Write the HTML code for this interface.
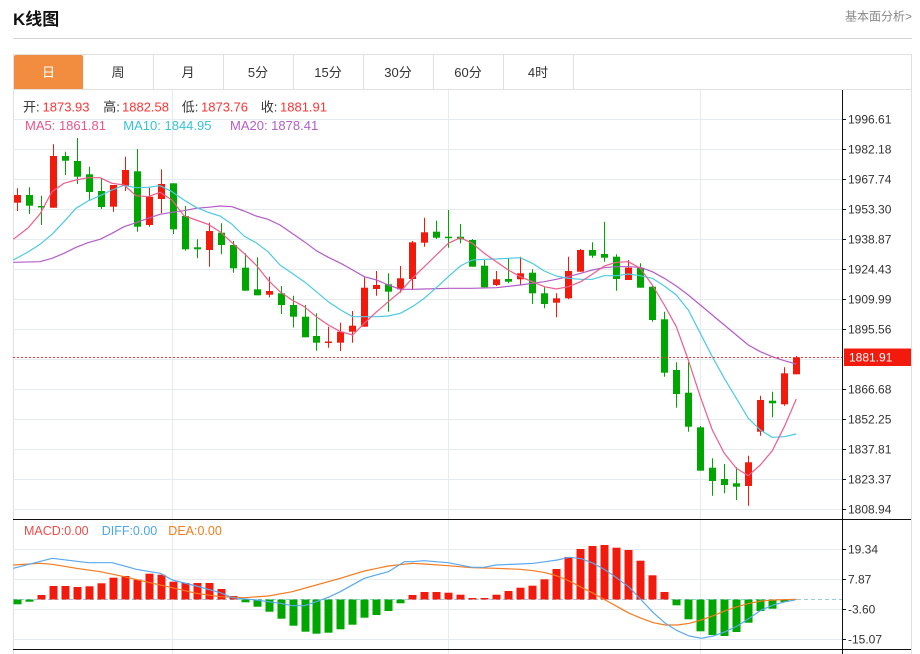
<!DOCTYPE html>
<html><head><meta charset="utf-8"><style>
html,body{margin:0;padding:0;background:#fff;width:920px;height:654px;overflow:hidden}
svg{display:block}
text{font-family:"Liberation Sans","Noto Sans CJK SC",sans-serif}
</style></head><body>
<svg width="920" height="654" viewBox="0 0 920 654" xmlns="http://www.w3.org/2000/svg">
<rect width="920" height="654" fill="#fff"/>
<text x="13" y="25" font-size="17" font-weight="bold" fill="#111">K线图</text>
<text x="912" y="20.5" font-size="12" fill="#888" text-anchor="end">基本面分析&gt;</text>
<line x1="13" y1="38.5" x2="912" y2="38.5" stroke="#d3d3d3" stroke-width="1"/>
<rect x="13.5" y="54.5" width="898" height="612" fill="none" stroke="#e0e0e0"/>
<rect x="14" y="55" width="69" height="35" rx="2" fill="#f28c3e"/>
<g stroke="#e0e0e0" stroke-width="1">
<line x1="153.5" y1="55" x2="153.5" y2="89"/><line x1="223.5" y1="55" x2="223.5" y2="89"/>
<line x1="293.5" y1="55" x2="293.5" y2="89"/><line x1="363.5" y1="55" x2="363.5" y2="89"/>
<line x1="433.5" y1="55" x2="433.5" y2="89"/><line x1="503.5" y1="55" x2="503.5" y2="89"/>
<line x1="573.5" y1="55" x2="573.5" y2="89"/>
<line x1="13" y1="89.5" x2="912" y2="89.5"/>
</g>
<g font-size="13" fill="#333" text-anchor="middle">
<text x="48.5" y="77" fill="#fff">日</text><text x="118" y="77">周</text><text x="188" y="77">月</text>
<text x="258" y="77">5分</text><text x="328" y="77">15分</text><text x="398" y="77">30分</text>
<text x="468" y="77">60分</text><text x="538" y="77">4时</text>
</g>
<g stroke="#e4ebf1" stroke-width="1">
<line x1="13" y1="119.5" x2="842" y2="119.5"/><line x1="13" y1="149.5" x2="842" y2="149.5"/>
<line x1="13" y1="179.5" x2="842" y2="179.5"/><line x1="13" y1="209.5" x2="842" y2="209.5"/>
<line x1="13" y1="239.5" x2="842" y2="239.5"/><line x1="13" y1="269.5" x2="842" y2="269.5"/>
<line x1="13" y1="299.5" x2="842" y2="299.5"/><line x1="13" y1="329.5" x2="842" y2="329.5"/>
<line x1="13" y1="359.5" x2="842" y2="359.5"/><line x1="13" y1="389.5" x2="842" y2="389.5"/>
<line x1="13" y1="419.5" x2="842" y2="419.5"/><line x1="13" y1="449.5" x2="842" y2="449.5"/>
<line x1="13" y1="479.5" x2="842" y2="479.5"/><line x1="13" y1="509.5" x2="842" y2="509.5"/>
<line x1="13" y1="549.5" x2="842" y2="549.5"/><line x1="13" y1="579.5" x2="842" y2="579.5"/>
<line x1="13" y1="609.5" x2="842" y2="609.5"/><line x1="13" y1="639.5" x2="842" y2="639.5"/>
<line x1="172.5" y1="90" x2="172.5" y2="654"/><line x1="448.5" y1="90" x2="448.5" y2="654"/>
<line x1="700.5" y1="90" x2="700.5" y2="654"/>
</g>
<line x1="13" y1="599.5" x2="842" y2="599.5" stroke="#96cde6" stroke-width="1" stroke-dasharray="4,3"/>
<g fill="#f2190d" stroke="#f2190d" stroke-width="1">
<line x1="17.5" y1="188.3" x2="17.5" y2="211"/><rect x="14" y="195" width="7" height="7.7" stroke="none"/>
<line x1="53.5" y1="144.3" x2="53.5" y2="207.7"/><rect x="50" y="156" width="7" height="51.7" stroke="none"/>
<line x1="113.5" y1="185" x2="113.5" y2="211.7"/><rect x="110" y="185" width="7" height="21.7" stroke="none"/>
<line x1="125.5" y1="156.7" x2="125.5" y2="191"/><rect x="122" y="170" width="7" height="16" stroke="none"/>
<line x1="149.5" y1="187.7" x2="149.5" y2="226.7"/><rect x="146" y="196.7" width="7" height="28.3" stroke="none"/>
<line x1="161.5" y1="169.3" x2="161.5" y2="213.3"/><rect x="158" y="184" width="7" height="15" stroke="none"/>
<line x1="209.5" y1="222.7" x2="209.5" y2="266.7"/><rect x="206" y="231" width="7" height="19" stroke="none"/>
<line x1="269.5" y1="276.7" x2="269.5" y2="297.3"/><rect x="266" y="291" width="7" height="3.7" stroke="none"/>
<line x1="328.5" y1="326.7" x2="328.5" y2="347.7"/><rect x="325" y="341.5" width="7" height="1.5" stroke="none"/>
<line x1="340.5" y1="322.7" x2="340.5" y2="351"/><rect x="337" y="331.7" width="7" height="11" stroke="none"/>
<line x1="352.5" y1="311" x2="352.5" y2="342.7"/><rect x="349" y="325.7" width="7" height="6" stroke="none"/>
<line x1="364.5" y1="277.3" x2="364.5" y2="326.7"/><rect x="361" y="287.7" width="7" height="39" stroke="none"/>
<line x1="376.5" y1="271" x2="376.5" y2="295.7"/><rect x="373" y="285" width="7" height="4" stroke="none"/>
<line x1="400.5" y1="266" x2="400.5" y2="292.7"/><rect x="397" y="278.3" width="7" height="11" stroke="none"/>
<line x1="412.5" y1="241" x2="412.5" y2="290"/><rect x="409" y="242.3" width="7" height="36.7" stroke="none"/>
<line x1="424.5" y1="217.7" x2="424.5" y2="246.7"/><rect x="421" y="232.3" width="7" height="10.4" stroke="none"/>
<line x1="496.5" y1="271" x2="496.5" y2="286"/><rect x="493" y="279.3" width="7" height="5.7" stroke="none"/>
<line x1="520.5" y1="256.7" x2="520.5" y2="285"/><rect x="517" y="273.3" width="7" height="6" stroke="none"/>
<line x1="556.5" y1="293.3" x2="556.5" y2="317.3"/><rect x="553" y="298.3" width="7" height="4.4" stroke="none"/>
<line x1="568.5" y1="256.7" x2="568.5" y2="299.3"/><rect x="565" y="271" width="7" height="27.3" stroke="none"/>
<line x1="580.5" y1="249" x2="580.5" y2="271.7"/><rect x="577" y="250" width="7" height="21.7" stroke="none"/>
<line x1="628.5" y1="260" x2="628.5" y2="280"/><rect x="625" y="267.7" width="7" height="12.3" stroke="none"/>
<line x1="748.5" y1="455.7" x2="748.5" y2="505.7"/><rect x="745" y="462.3" width="7" height="23.7" stroke="none"/>
<line x1="760.5" y1="395.7" x2="760.5" y2="435.7"/><rect x="757" y="400" width="7" height="31.7" stroke="none"/>
<line x1="784.5" y1="367.3" x2="784.5" y2="405.7"/><rect x="781" y="373.3" width="7" height="31" stroke="none"/>
<line x1="796.5" y1="356" x2="796.5" y2="374.3"/><rect x="793" y="357.3" width="7" height="17" stroke="none"/>
</g>
<g fill="#00a600" stroke="#00a600" stroke-width="1">
<line x1="29.5" y1="187.3" x2="29.5" y2="214"/><rect x="26" y="195" width="7" height="10.7" stroke="none"/>
<line x1="41.5" y1="195.7" x2="41.5" y2="225"/><rect x="38" y="206" width="7" height="1.5" stroke="none"/>
<line x1="65.5" y1="151.7" x2="65.5" y2="175"/><rect x="62" y="156" width="7" height="4.7" stroke="none"/>
<line x1="77.5" y1="138" x2="77.5" y2="184"/><rect x="74" y="161" width="7" height="15.7" stroke="none"/>
<line x1="89.5" y1="166.7" x2="89.5" y2="201"/><rect x="86" y="174.3" width="7" height="17.7" stroke="none"/>
<line x1="101.5" y1="178.3" x2="101.5" y2="209"/><rect x="98" y="191" width="7" height="16" stroke="none"/>
<line x1="137.5" y1="149" x2="137.5" y2="231.7"/><rect x="134" y="171.3" width="7" height="55.4" stroke="none"/>
<line x1="173.5" y1="183.3" x2="173.5" y2="234"/><rect x="170" y="183.3" width="7" height="46" stroke="none"/>
<line x1="185.5" y1="206" x2="185.5" y2="250.7"/><rect x="182" y="216" width="7" height="33.3" stroke="none"/>
<line x1="197.5" y1="239.3" x2="197.5" y2="258.3"/><rect x="194" y="247.3" width="7" height="2" stroke="none"/>
<line x1="221.5" y1="223.3" x2="221.5" y2="254.3"/><rect x="218" y="232.7" width="7" height="12.3" stroke="none"/>
<line x1="233.5" y1="241" x2="233.5" y2="272.7"/><rect x="230" y="245" width="7" height="23.3" stroke="none"/>
<line x1="245.5" y1="253.3" x2="245.5" y2="290.7"/><rect x="242" y="267.7" width="7" height="23" stroke="none"/>
<line x1="257.5" y1="257.3" x2="257.5" y2="295.3"/><rect x="254" y="289.3" width="7" height="6" stroke="none"/>
<line x1="281.5" y1="286" x2="281.5" y2="314"/><rect x="278" y="293.3" width="7" height="11.7" stroke="none"/>
<line x1="293.5" y1="295.7" x2="293.5" y2="327.5"/><rect x="290" y="305" width="7" height="11.7" stroke="none"/>
<line x1="305.5" y1="305" x2="305.5" y2="337.3"/><rect x="302" y="316.7" width="7" height="20.6" stroke="none"/>
<line x1="316.5" y1="313.3" x2="316.5" y2="350.7"/><rect x="313" y="336" width="7" height="6.7" stroke="none"/>
<line x1="388.5" y1="273.3" x2="388.5" y2="311.7"/><rect x="385" y="284.3" width="7" height="7.4" stroke="none"/>
<line x1="436.5" y1="220.7" x2="436.5" y2="239"/><rect x="433" y="231.7" width="7" height="6" stroke="none"/>
<line x1="448.5" y1="210" x2="448.5" y2="247.7"/><rect x="445" y="236.7" width="7" height="1.5" stroke="none"/>
<line x1="460.5" y1="224" x2="460.5" y2="243.3"/><rect x="457" y="236.7" width="7" height="2.6" stroke="none"/>
<line x1="472.5" y1="239" x2="472.5" y2="266.7"/><rect x="469" y="240" width="7" height="26.7" stroke="none"/>
<line x1="484.5" y1="260" x2="484.5" y2="287.3"/><rect x="481" y="265.7" width="7" height="21.6" stroke="none"/>
<line x1="508.5" y1="258.3" x2="508.5" y2="283.3"/><rect x="505" y="279" width="7" height="2.7" stroke="none"/>
<line x1="532.5" y1="269.3" x2="532.5" y2="304"/><rect x="529" y="272.7" width="7" height="20.6" stroke="none"/>
<line x1="544.5" y1="287.3" x2="544.5" y2="308.3"/><rect x="541" y="293.3" width="7" height="10.7" stroke="none"/>
<line x1="592.5" y1="242.3" x2="592.5" y2="257.7"/><rect x="589" y="250" width="7" height="5.7" stroke="none"/>
<line x1="604.5" y1="221.7" x2="604.5" y2="261.7"/><rect x="601" y="254" width="7" height="3.7" stroke="none"/>
<line x1="616.5" y1="254.3" x2="616.5" y2="290.7"/><rect x="613" y="256.7" width="7" height="22.3" stroke="none"/>
<line x1="640.5" y1="263.3" x2="640.5" y2="287.7"/><rect x="637" y="267.7" width="7" height="20" stroke="none"/>
<line x1="652.5" y1="285" x2="652.5" y2="321.7"/><rect x="649" y="286.7" width="7" height="33.3" stroke="none"/>
<line x1="664.5" y1="311.7" x2="664.5" y2="376.7"/><rect x="661" y="319.3" width="7" height="53.4" stroke="none"/>
<line x1="676.5" y1="362.3" x2="676.5" y2="407.7"/><rect x="673" y="370" width="7" height="24" stroke="none"/>
<line x1="688.5" y1="362.3" x2="688.5" y2="431.7"/><rect x="685" y="392.7" width="7" height="34" stroke="none"/>
<line x1="700.5" y1="426" x2="700.5" y2="470.7"/><rect x="697" y="427.3" width="7" height="43.4" stroke="none"/>
<line x1="712.5" y1="458.3" x2="712.5" y2="495.7"/><rect x="709" y="467.7" width="7" height="13.3" stroke="none"/>
<line x1="724.5" y1="464" x2="724.5" y2="493.3"/><rect x="721" y="479" width="7" height="6" stroke="none"/>
<line x1="736.5" y1="467.3" x2="736.5" y2="500"/><rect x="733" y="483.3" width="7" height="3.4" stroke="none"/>
<line x1="772.5" y1="391.7" x2="772.5" y2="417.3"/><rect x="769" y="400.7" width="7" height="2.6" stroke="none"/>
</g>
<g fill="none" stroke-width="1.2" stroke-linejoin="round">
<polyline stroke="#b45cc8" points="13.3,262.3 40,261.7 52,258.3 64,253.3 76,247.3 88,242.7 100,239.3 112,233.3 124,226.7 136,222.7 148,218.3 160,214.3 172,212.3 184,210.7 196,208.3 208,207.3 220,206 232,206.7 244,211 256,216 268,219.3 280,225 292,233.3 304.3,241.7 316.3,250.7 328.3,257.3 340.7,263.3 352.7,270 364.3,276.7 376.7,280 388.3,285 400.3,289.3 412.3,289.3 424.3,289 448.3,288.3 472.3,288.3 496.3,287.7 520.3,285 532.3,283.3 544.3,281.7 556.3,279.3 568.3,276.7 580.7,273.3 592.3,270 604.3,267.7 616.3,266.7 628.3,266.7 640.3,267.3 652.3,271.7 664.3,278.3 676.3,286 688.3,295 700.3,305 712.3,315 724.3,325 736.3,335 748.3,345 760.3,351.7 772.3,356.7 784.3,360.7 796.3,364"/>
<polyline stroke="#4ccae0" points="13.3,260 28,252 40,244.3 52,234.3 64,221.7 76,208.3 88,201 100,195.7 112,190 124,185.3 136,187.7 148,187.3 160,185.7 172,191.7 184,200 196,207.3 208,212.3 220,216 232,224.3 244,236 256,242.7 268,251.7 280,265 292,273.3 304.3,281.7 316.3,291.7 328.3,301.7 340.7,310 352.7,316.7 364.3,316.7 376.7,316.7 388.3,316 400.3,313.3 412.3,306.7 424.3,298.3 436.3,287.7 448.3,276.7 460.3,266 472.3,260 484.3,259.3 496.3,259 508.3,258.3 520.3,257.7 532.3,263.3 544.3,271 556.3,276 568.3,278.3 580.7,279.3 592.3,279.3 604.3,275.7 616.3,275.7 628.3,274 640.3,275.7 652.3,278.3 664.3,286 676.3,295 688.3,310 700.3,333.3 712.3,356.7 724.3,378.3 736.3,398.3 748.3,418.3 760.3,430 772.3,437.3 784.3,436.7 796.3,434"/>
<polyline stroke="#ee5c8c" points="13.3,239.3 28,228 40,214 52,191.7 64,183.3 76,180 88,177.7 100,177.7 112,183.3 124,185 136,195.7 148,196.7 160,192.3 172,200 184,215.7 196,220 208,224.3 220,231.7 232,242.7 244,253.3 256,265 268,280 280,291.7 292,300 304.3,306.7 316.3,316.7 328.3,325 340.7,331.7 352.7,335 364.3,323.3 376.7,311.7 388.3,301.7 400.3,291.7 412.3,278.3 424.3,266.7 436.3,255 448.3,243.3 460.3,237.7 472.3,243.3 484.3,253.3 496.3,261.7 508.3,270 520.3,276.7 532.3,281.7 544.3,286.7 556.3,289 568.3,286.7 580.7,281.7 592.3,274.3 604.3,266 616.3,262.3 628.3,261.7 640.3,268.3 652.3,285 664.3,305 676.3,326.7 688.3,360 700.3,396.7 712.3,430 724.3,453.3 736.3,468.3 748.3,475.7 760.3,465 772.3,450.7 784.3,426.7 796.3,399"/>
</g>
<line x1="13" y1="357.5" x2="842" y2="357.5" stroke="#f33" stroke-width="1" stroke-dasharray="2,2"/>
<g fill="#f2190d">
<rect x="37.5" y="595" width="8" height="4.5"/><rect x="49.5" y="586" width="8" height="13.5"/>
<rect x="61.5" y="586" width="8" height="13.5"/><rect x="73.5" y="587" width="8" height="12.5"/>
<rect x="85.5" y="586.3" width="8" height="13.2"/><rect x="97.5" y="583.3" width="8" height="16.2"/>
<rect x="109.5" y="577.7" width="8" height="21.8"/><rect x="121.5" y="576" width="8" height="23.5"/>
<rect x="133.5" y="579.7" width="8" height="19.8"/><rect x="145.5" y="573.7" width="8" height="25.8"/>
<rect x="157.5" y="574.7" width="8" height="24.8"/><rect x="169.5" y="581.7" width="8" height="17.8"/>
<rect x="181.5" y="583" width="8" height="16.5"/><rect x="193.5" y="583" width="8" height="16.5"/>
<rect x="205.5" y="583" width="8" height="16.5"/><rect x="217.5" y="589" width="8" height="10.5"/>
<rect x="229.5" y="596" width="8" height="3.5"/>
<rect x="408.5" y="595" width="8" height="4.5"/><rect x="420.5" y="592" width="8" height="7.5"/>
<rect x="432.5" y="592" width="8" height="7.5"/><rect x="444.5" y="592.7" width="8" height="6.8"/>
<rect x="456.5" y="594.7" width="8" height="4.8"/><rect x="468.5" y="598" width="8" height="1.5"/>
<rect x="480.5" y="598" width="8" height="1.5"/><rect x="492.5" y="594.7" width="8" height="4.8"/>
<rect x="504.5" y="591" width="8" height="8.5"/><rect x="516.5" y="587.7" width="8" height="11.8"/>
<rect x="528.5" y="585.7" width="8" height="13.8"/><rect x="540.5" y="579.3" width="8" height="20.2"/>
<rect x="552.5" y="569" width="8" height="30.5"/><rect x="564.5" y="557" width="8" height="42.5"/>
<rect x="576.5" y="549" width="8" height="50.5"/><rect x="588.5" y="546" width="8" height="53.5"/>
<rect x="600.5" y="545" width="8" height="54.5"/><rect x="612.5" y="547.7" width="8" height="51.8"/>
<rect x="624.5" y="550" width="8" height="49.5"/><rect x="636.5" y="560.7" width="8" height="38.8"/>
<rect x="648.5" y="575.3" width="8" height="24.2"/><rect x="660.5" y="592" width="8" height="7.5"/>
</g>
<g fill="#00a600">
<rect x="13.5" y="599.5" width="8" height="4.8"/><rect x="25.5" y="599.5" width="8" height="2.2"/>
<rect x="241.5" y="599.5" width="8" height="2.8"/><rect x="253.5" y="599.5" width="8" height="7.2"/>
<rect x="265.5" y="599.5" width="8" height="12.2"/><rect x="277.5" y="599.5" width="8" height="19.2"/>
<rect x="289.5" y="599.5" width="8" height="26.2"/><rect x="301.5" y="599.5" width="8" height="32.2"/>
<rect x="312.5" y="599.5" width="8" height="34.2"/><rect x="324.5" y="599.5" width="8" height="33.2"/>
<rect x="336.5" y="599.5" width="8" height="29.8"/><rect x="348.5" y="599.5" width="8" height="25.2"/>
<rect x="360.5" y="599.5" width="8" height="18.2"/><rect x="372.5" y="599.5" width="8" height="15.5"/>
<rect x="384.5" y="599.5" width="8" height="11.5"/><rect x="396.5" y="599.5" width="8" height="3.8"/>
<rect x="672.5" y="599.5" width="8" height="5.8"/><rect x="684.5" y="599.5" width="8" height="19.8"/>
<rect x="696.5" y="599.5" width="8" height="31.8"/><rect x="708.5" y="599.5" width="8" height="35.5"/>
<rect x="720.5" y="599.5" width="8" height="36.5"/><rect x="732.5" y="599.5" width="8" height="32.5"/>
<rect x="744.5" y="599.5" width="8" height="23.2"/><rect x="756.5" y="599.5" width="8" height="11.5"/>
<rect x="768.5" y="599.5" width="8" height="9.2"/><rect x="780.5" y="599.5" width="8" height="2.5"/>
</g>
<g fill="none" stroke-width="1.2" stroke-linejoin="round">
<polyline stroke="#f47b20" points="13.3,565 40.3,563.3 52.3,564.3 76.3,568.3 100.3,571.7 124.3,576.7 148.3,582.3 172.3,587.7 196.3,593.3 220.3,596.7 244.3,597.7 268.3,596 292.3,591.7 316.3,585 340.3,578.3 364.3,571 388.3,566 412.3,563.3 424,564 448,565.7 472,567.7 496,568.3 520,569.3 533.3,570.7 545.3,572.7 557.3,576 569.3,581 581.3,587.3 593.3,593.3 605.3,600 617.3,606.7 629.3,613.3 641.3,618.3 653.3,622.7 665.3,625 677.3,625 689.3,623.3 701.3,620 713.3,615.7 725.3,610.7 737.3,606.7 749.3,603.3 761.3,601 773.3,600 796.7,599.3"/>
<polyline stroke="#5aa9ee" points="13.3,568.3 52.3,558.3 88.3,562.7 112.3,562.7 136.3,569.3 160.3,573.3 172.3,580 196.3,586 220.3,592.7 232.3,597.7 256.3,600 280.3,603.3 292.3,605.7 304.3,605.7 316.3,601.7 328.3,597.3 340.3,591.7 364.3,578.3 388.3,571.7 404.3,561.7 412,561.7 424,560.7 448,562.7 472,567.3 484,567.3 496,565 520,564 533.3,563.3 545.3,561.7 557.3,560 569.3,557.3 581.3,558.7 593.3,563.3 605.3,570 617.3,578.3 629.3,587.3 641.3,600 653.3,612.7 665.3,623.3 677.3,630.7 689.3,636 701.3,638.3 713.3,636 725.3,631.7 737.3,626 749.3,618.3 761.3,610 773.3,605 785.3,601.7 795,600"/>
</g>
<g stroke="#111" stroke-width="1">
<line x1="13" y1="519.5" x2="912" y2="519.5"/>
<line x1="13" y1="649.5" x2="912" y2="649.5"/>
<line x1="842.5" y1="90" x2="842.5" y2="654"/>
<line x1="842" y1="119.5" x2="846" y2="119.5"/><line x1="842" y1="149.5" x2="846" y2="149.5"/>
<line x1="842" y1="179.5" x2="846" y2="179.5"/><line x1="842" y1="209.5" x2="846" y2="209.5"/>
<line x1="842" y1="239.5" x2="846" y2="239.5"/><line x1="842" y1="269.5" x2="846" y2="269.5"/>
<line x1="842" y1="299.5" x2="846" y2="299.5"/><line x1="842" y1="329.5" x2="846" y2="329.5"/>
<line x1="842" y1="389.5" x2="846" y2="389.5"/><line x1="842" y1="419.5" x2="846" y2="419.5"/>
<line x1="842" y1="449.5" x2="846" y2="449.5"/><line x1="842" y1="479.5" x2="846" y2="479.5"/>
<line x1="842" y1="509.5" x2="846" y2="509.5"/>
<line x1="842" y1="549.5" x2="846" y2="549.5"/><line x1="842" y1="579.5" x2="846" y2="579.5"/>
<line x1="842" y1="609.5" x2="846" y2="609.5"/><line x1="842" y1="639.5" x2="846" y2="639.5"/>
</g>
<g font-size="12" fill="#333">
<text x="848" y="123.5">1996.61</text><text x="848" y="153.5">1982.18</text>
<text x="848" y="183.5">1967.74</text><text x="848" y="213.5">1953.30</text>
<text x="848" y="243.5">1938.87</text><text x="848" y="273.5">1924.43</text>
<text x="848" y="303.5">1909.99</text><text x="848" y="333.5">1895.56</text>
<text x="848" y="393.5">1866.68</text><text x="848" y="423.5">1852.25</text>
<text x="848" y="453.5">1837.81</text><text x="848" y="483.5">1823.37</text>
<text x="848" y="513.5">1808.94</text>
<text x="848" y="553.5">19.34</text><text x="848" y="583.5">7.87</text>
<text x="848" y="613.5">-3.60</text><text x="848" y="643.5">-15.07</text>
</g>
<rect x="844" y="348.5" width="68" height="17.5" fill="#f2190d"/>
<text x="849" y="361.7" font-size="12" fill="#fff">1881.91</text>
<g font-size="13">
<text x="23" y="111.5" fill="#333">开:</text><text x="42.5" y="111.5" fill="#f33">1873.93</text>
<text x="103.3" y="111.5" fill="#333">高:</text><text x="122" y="111.5" fill="#f33">1882.58</text>
<text x="181.7" y="111.5" fill="#333">低:</text><text x="201" y="111.5" fill="#f33">1873.76</text>
<text x="260.7" y="111.5" fill="#333">收:</text><text x="280" y="111.5" fill="#f33">1881.91</text>
<text x="25" y="130" fill="#e8568a">MA5: 1861.81</text>
<text x="123.3" y="130" fill="#36c3d6">MA10: 1844.95</text>
<text x="230" y="130" fill="#b35ec9">MA20: 1878.41</text>
</g>
<g font-size="12.5">
<text x="24" y="535" fill="#f24a4a">MACD:0.00</text>
<text x="101.7" y="535" fill="#4ba6ef">DIFF:0.00</text>
<text x="168.3" y="535" fill="#f07d1e">DEA:0.00</text>
</g>
<line x1="911.5" y1="54" x2="911.5" y2="654" stroke="#e0e0e0"/>
</svg>
</body></html>
